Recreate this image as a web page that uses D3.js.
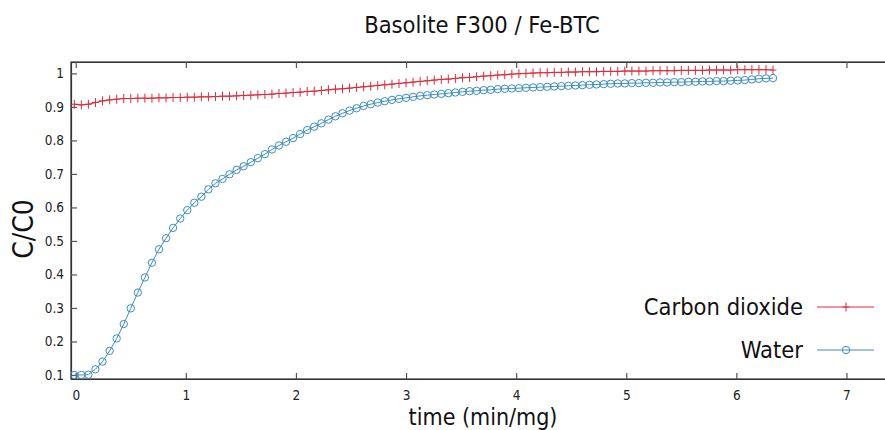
<!DOCTYPE html>
<html>
<head>
<meta charset="utf-8">
<script src="https://cdn.jsdelivr.net/npm/d3@7"></script>
<style>
  html, body { margin: 0; padding: 0; background: #fff; }
  svg { display: block; font-family: "DejaVu Sans Condensed", "DejaVu Sans", sans-serif; }
</style>
</head>
<body>
<svg id="chart" width="885" height="430"></svg>
<script>
const times = [-0.013,0.051,0.115,0.179,0.243,0.308,0.372,0.436,0.500,0.564,
  0.628,0.692,0.756,0.820,0.884,0.949,1.013,1.077,1.141,1.205,
  1.269,1.333,1.397,1.461,1.525,1.590,1.654,1.718,1.782,1.846,
  1.910,1.974,2.038,2.102,2.166,2.231,2.295,2.359,2.423,2.487,
  2.551,2.615,2.679,2.743,2.807,2.872,2.936,3.000,3.064,3.128,
  3.192,3.256,3.320,3.384,3.448,3.513,3.577,3.641,3.705,3.769,
  3.833,3.897,3.961,4.025,4.089,4.154,4.218,4.282,4.346,4.410,
  4.474,4.538,4.602,4.666,4.730,4.795,4.859,4.923,4.987,5.051,
  5.115,5.179,5.243,5.307,5.371,5.436,5.500,5.564,5.628,5.692,
  5.756,5.820,5.884,5.948,6.012,6.077,6.141,6.205,6.269,6.333];

const co2 = [0.908,0.906,0.908,0.913,0.918,0.921,0.923,0.925,0.925,0.926,
  0.926,0.926,0.927,0.927,0.928,0.928,0.929,0.929,0.930,0.930,
  0.931,0.932,0.932,0.933,0.934,0.935,0.936,0.937,0.938,0.940,
  0.941,0.943,0.944,0.946,0.947,0.949,0.951,0.953,0.954,0.956,
  0.958,0.960,0.962,0.964,0.966,0.968,0.970,0.972,0.974,0.976,
  0.978,0.980,0.982,0.983,0.985,0.987,0.988,0.990,0.992,0.993,
  0.995,0.996,0.998,0.999,1.000,1.001,1.002,1.002,1.003,1.003,
  1.004,1.004,1.005,1.005,1.005,1.006,1.006,1.006,1.007,1.007,
  1.007,1.007,1.008,1.008,1.008,1.008,1.009,1.009,1.009,1.009,
  1.010,1.010,1.010,1.010,1.011,1.011,1.011,1.011,1.011,1.010];

const water = [0.100,0.100,0.101,0.117,0.140,0.172,0.209,0.252,0.299,0.346,
  0.391,0.435,0.475,0.508,0.539,0.567,0.592,0.614,0.632,0.654,
  0.672,0.685,0.699,0.712,0.723,0.735,0.747,0.759,0.773,0.785,
  0.796,0.807,0.819,0.831,0.841,0.851,0.862,0.872,0.881,0.889,
  0.896,0.903,0.908,0.913,0.917,0.921,0.924,0.927,0.930,0.933,
  0.935,0.937,0.939,0.941,0.943,0.945,0.947,0.948,0.950,0.951,
  0.953,0.954,0.955,0.956,0.957,0.958,0.959,0.960,0.961,0.962,
  0.963,0.964,0.965,0.966,0.967,0.968,0.969,0.970,0.970,0.971,
  0.971,0.972,0.972,0.973,0.973,0.974,0.974,0.975,0.975,0.976,
  0.976,0.977,0.977,0.978,0.979,0.980,0.982,0.984,0.985,0.986];

const xTicks = [0,1,2,3,4,5,6,7];
const yTicks = [0.1,0.2,0.3,0.4,0.5,0.6,0.7,0.8,0.9,1];
const seriesNames = ["Carbon dioxide", "Water"];
const titleText = "Basolite F300 / Fe-BTC";
const xLabel = "time (min/mg)";
const yLabel = "C/C0";

const svg = d3.select("#chart");
const L = 71, T = 62, B = 379, R = 890.5;
const x = d3.scaleLinear().domain([-0.043, 7.40]).range([L, R]);
const y = d3.scaleLinear().domain([0.088, 1.034]).range([B, T]);
const redC = "#dc2c3c", blueC = "#3c8ec0", axisC = "#333";

// frame
svg.append("rect").attr("x", L).attr("y", T).attr("width", R - L).attr("height", B - T)
  .attr("fill", "none").attr("stroke", axisC).attr("stroke-width", 1.2);

const fmtY = d => (d === 1 ? "1" : d3.format(".1f")(d));

const gx = svg.append("g").attr("transform", `translate(0,${B})`)
  .call(d3.axisBottom(x).tickValues(xTicks).tickSizeInner(-6).tickSizeOuter(0).tickPadding(11).tickFormat(d3.format("d")));
const gxt = svg.append("g").attr("transform", `translate(0,${T})`)
  .call(d3.axisTop(x).tickValues(xTicks).tickSizeInner(-6).tickSizeOuter(0).tickFormat(""));
const gy = svg.append("g").attr("transform", `translate(${L},0)`)
  .call(d3.axisLeft(y).tickValues(yTicks).tickSizeInner(-6).tickSizeOuter(0).tickPadding(7).tickFormat(fmtY));

[gx, gxt, gy].forEach(g => {
  g.select(".domain").attr("stroke", axisC).attr("stroke-width", 1.2);
  g.selectAll(".tick line").attr("stroke", "#555").attr("stroke-width", 1.2);
  g.selectAll(".tick text").attr("fill", "#222").style("font-size", "13.5px")
    .style("font-family", '"DejaVu Sans Condensed", "DejaVu Sans", sans-serif');
});

// data
const dataC = times.map((t, i) => ({ t, v: co2[i] }));
const dataW = times.map((t, i) => ({ t, v: water[i] }));
const line = d3.line().x(d => x(d.t)).y(d => y(d.v));

svg.append("path").datum(dataC).attr("d", line).attr("fill", "none").attr("stroke", redC).attr("stroke-width", 1);
svg.append("path").datum(dataW).attr("d", line).attr("fill", "none").attr("stroke", blueC).attr("stroke-width", 1);

const plus = (g, cx, cy) => {
  g.append("path").attr("d", `M${cx - 3.5},${cy}H${cx + 3.5}M${cx},${cy - 4.5}V${cy + 4.5}`)
    .attr("stroke", redC).attr("stroke-width", 1).attr("fill", "none");
};
const gC = svg.append("g");
dataC.forEach(d => plus(gC, x(d.t), y(d.v)));
svg.append("g").selectAll("circle").data(dataW).join("circle")
  .attr("cx", d => x(d.t)).attr("cy", d => y(d.v)).attr("r", 3.7)
  .attr("fill", "none").attr("stroke", blueC).attr("stroke-width", 1);

// legend
const legY = [307, 350];
seriesNames.forEach((name, i) => {
  svg.append("text").attr("x", 803).attr("y", legY[i]).attr("dy", "0.36em")
    .attr("text-anchor", "end").style("font-size", "23.5px").attr("fill", "#111").text(name);
  svg.append("line").attr("x1", 817).attr("x2", 874).attr("y1", legY[i]).attr("y2", legY[i])
    .attr("stroke", i === 0 ? redC : blueC).attr("stroke-width", 1);
});
plus(svg.append("g"), 846, legY[0]);
svg.append("circle").attr("cx", 846).attr("cy", legY[1]).attr("r", 3.7)
  .attr("fill", "none").attr("stroke", blueC).attr("stroke-width", 1);

// titles
svg.append("text").attr("x", 482).attr("y", 33).attr("text-anchor", "middle")
  .style("font-size", "23.5px").attr("fill", "#111").text(titleText);
svg.append("text").attr("x", 483).attr("y", 424.5).attr("text-anchor", "middle")
  .style("font-size", "23px").attr("fill", "#111").text(xLabel);
svg.append("text").attr("transform", "translate(33,229) rotate(-90)").attr("text-anchor", "middle")
  .style("font-size", "28px").attr("fill", "#111").text(yLabel);
</script>
</body>
</html>
